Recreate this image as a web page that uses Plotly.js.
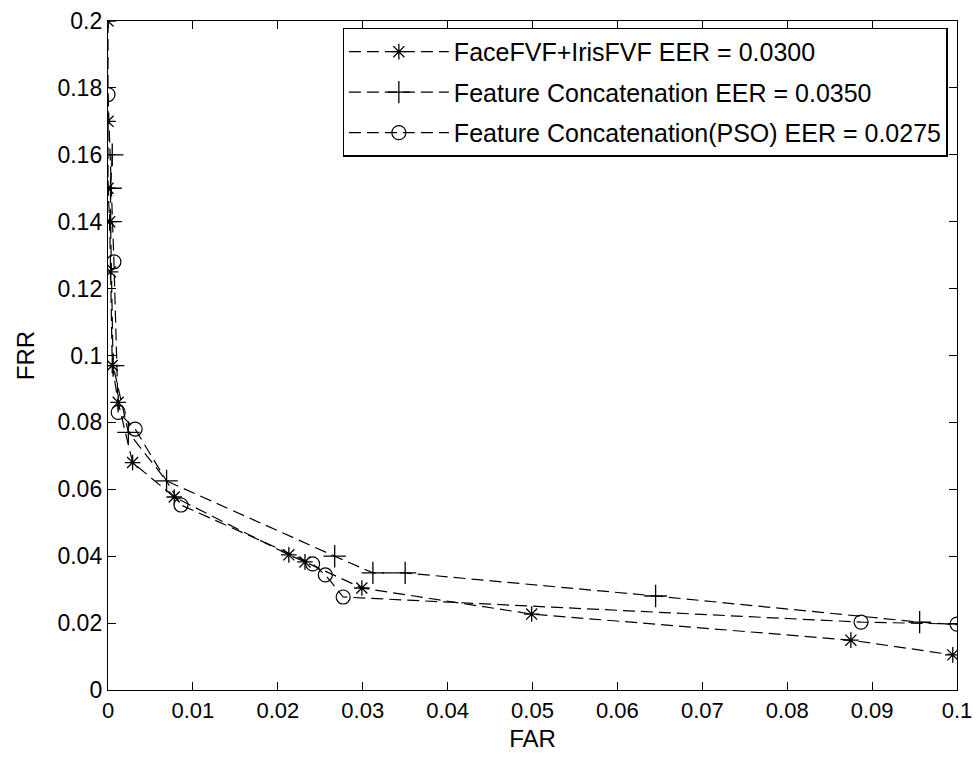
<!DOCTYPE html>
<html>
<head>
<meta charset="utf-8">
<script src="https://cdn.plot.ly/plotly-3.0.1.min.js"></script>
<style>html,body{margin:0;padding:0;background:#fff;}#chart{width:977px;height:758px;}</style>
</head>
<body>
<div id="chart"></div>
<script>
// Series 1: FaceFVF+IrisFVF
const faceIrisFAR = [0, 0, 0, 0.0002, 0.0003, 0.0005, 0.0012, 0.0029, 0.0078, 0.0213, 0.0232, 0.0299, 0.0499, 0.0875, 0.0995];
const faceIrisFRR = [0.2, 0.17, 0.15, 0.14, 0.125, 0.097, 0.086, 0.068, 0.0577, 0.0404, 0.0383, 0.0305, 0.0227, 0.0149, 0.0105];
// Series 2: Feature Concatenation
const concatFAR = [0.0005, 0.0003, 0.0003, 0.0006, 0.0024, 0.0069, 0.0267, 0.0312, 0.035, 0.0645, 0.0956, 0.106];
const concatFRR = [0.16, 0.15, 0.14, 0.097, 0.077, 0.0625, 0.040, 0.035, 0.035, 0.0281, 0.0203, 0.0185];
// Series 3: Feature Concatenation(PSO)
const psoFAR = [0, 0.0007, 0.0012, 0.0032, 0.0086, 0.0241, 0.0256, 0.0277, 0.0887, 0.1];
const psoFRR = [0.178, 0.128, 0.083, 0.078, 0.0553, 0.0377, 0.0344, 0.0278, 0.0203, 0.0197];

const seriesNames = [
  'FaceFVF+IrisFVF EER = 0.0300',
  'Feature Concatenation EER = 0.0350',
  'Feature Concatenation(PSO) EER = 0.0275'
];
const xTicks = [0, 0.01, 0.02, 0.03, 0.04, 0.05, 0.06, 0.07, 0.08, 0.09, 0.1];
const xTickText = ['0', '0.01', '0.02', '0.03', '0.04', '0.05', '0.06', '0.07', '0.08', '0.09', '0.1'];
const yTicks = [0, 0.02, 0.04, 0.06, 0.08, 0.1, 0.12, 0.14, 0.16, 0.18, 0.2];
const yTickText = ['0', '0.02', '0.04', '0.06', '0.08', '0.1', '0.12', '0.14', '0.16', '0.18', '0.2'];

const FONT = 'Liberation Sans, Arial, sans-serif';
const lineStyle = {color: '#000', width: 1.2, dash: '12px,6px'};

const traces = [
  {x: faceIrisFAR, y: faceIrisFRR, name: seriesNames[0], legendgroup: 'a', mode: 'lines+markers',
   line: lineStyle, marker: {symbol: 'asterisk-open', size: 13, color: '#000', line: {color: '#000', width: 1.3}}},
  {x: concatFAR, y: concatFRR, name: seriesNames[1], legendgroup: 'b', mode: 'lines+markers',
   line: lineStyle, marker: {symbol: 'cross-thin-open', size: 16, color: '#000', line: {color: '#000', width: 1.3}}},
  {x: psoFAR, y: psoFRR, name: seriesNames[2], legendgroup: 'c', mode: 'lines+markers',
   line: lineStyle, marker: {symbol: 'circle-open', size: 14, color: '#000', line: {color: '#000', width: 1.2}}}
];

const layout = {
  width: 977, height: 758,
  margin: {l: 108, r: 20, t: 21, b: 68},
  paper_bgcolor: '#fff', plot_bgcolor: '#fff',
  font: {family: FONT, size: 22, color: '#000'},
  showlegend: true,
  legend: {
    x: 0.989, y: 0.99, xanchor: 'right', yanchor: 'top',
    bgcolor: '#fff', bordercolor: '#000', borderwidth: 1.2,
    font: {family: FONT, size: 25, color: '#000'},
    itemwidth: 100, tracegroupgap: 5
  },
  xaxis: {
    range: [0, 0.1], tickvals: xTicks, ticktext: xTickText,
    ticks: 'inside', ticklen: 8, tickcolor: '#000', tickwidth: 1,
    showline: true, linecolor: '#000', linewidth: 1.2, mirror: 'allticks',
    showgrid: false, zeroline: false,
    tickfont: {family: FONT, size: 22, color: '#000'},
    title: {text: 'FAR', font: {family: FONT, size: 24, color: '#000'}, standoff: 8}
  },
  yaxis: {
    range: [0, 0.2], tickvals: yTicks, ticktext: yTickText,
    ticks: 'inside', ticklen: 8, tickcolor: '#000', tickwidth: 1,
    showline: true, linecolor: '#000', linewidth: 1.2, mirror: 'allticks',
    showgrid: false, zeroline: false,
    tickfont: {family: FONT, size: 23, color: '#000'},
    title: {text: 'FRR', font: {family: FONT, size: 24, color: '#000'}, standoff: 16}
  }
};

Plotly.newPlot('chart', traces, layout, {displayModeBar: false, staticPlot: true});
</script>
</body>
</html>
